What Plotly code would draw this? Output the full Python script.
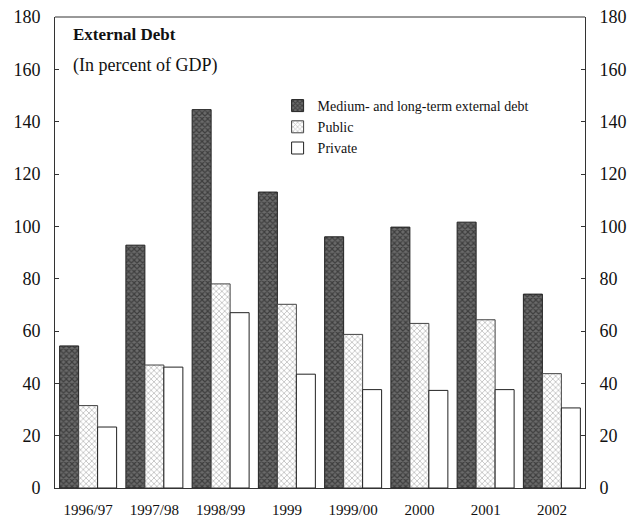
import plotly.graph_objects as go

categories = ["1996/97", "1997/98", "1998/99", "1999", "1999/00", "2000", "2001", "2002"]
medium_long = [54.3, 92.8, 144.6, 113.1, 96.0, 99.7, 101.6, 74.1]
public = [31.5, 47.0, 78.0, 70.2, 58.7, 62.9, 64.3, 43.7]
private = [23.3, 46.2, 67.0, 43.5, 37.6, 37.3, 37.6, 30.6]
y_ticks = [0, 20, 40, 60, 80, 100, 120, 140, 160, 180]

serif = "Liberation Serif"

fig = go.Figure()
fig.add_trace(go.Bar(
    x=categories, y=medium_long, name="Medium- and long-term external debt",
    marker=dict(color="#555555", line=dict(color="#222", width=1),
                pattern=dict(shape="x", fgcolor="#111", bgcolor="#6a6a6a", size=4, solidity=0.5)),
))
fig.add_trace(go.Bar(
    x=categories, y=public, name="Public",
    marker=dict(color="white", line=dict(color="#444", width=1),
                pattern=dict(shape="x", fgcolor="#8a8a8a", bgcolor="white", size=4, solidity=0.4)),
))
fig.add_trace(go.Bar(
    x=categories, y=private, name="Private",
    marker=dict(color="white", line=dict(color="#222", width=1)),
))
# invisible trace to activate right axis
fig.add_trace(go.Scatter(x=categories, y=[None]*len(categories), yaxis="y2", showlegend=False,
                         hoverinfo="skip"))

fig.update_layout(
    width=635, height=521,
    margin=dict(l=55, r=50, t=17, b=33),
    paper_bgcolor="white", plot_bgcolor="white",
    barmode="group", bargap=0.14, bargroupgap=0,
    font=dict(family=serif, color="#111"),
    xaxis=dict(showline=True, linecolor="#333", linewidth=1, ticks="", showgrid=False,
               tickfont=dict(size=15), ticklabelstandoff=8, mirror=False, automargin=False),
    yaxis=dict(range=[0, 180], tickvals=y_ticks, showline=True, linecolor="#333", linewidth=1,
               ticks="inside", ticklen=4, tickcolor="#333", showgrid=False, zeroline=False,
               tickfont=dict(size=18), ticklabelstandoff=10, automargin=False),
    yaxis2=dict(range=[0, 180], tickvals=y_ticks, overlaying="y", side="right", showline=True,
                linecolor="#333", linewidth=1, ticks="inside", ticklen=4, tickcolor="#333",
                showgrid=False, zeroline=False, tickfont=dict(size=18), ticklabelstandoff=10,
                automargin=False),
    legend=dict(x=0.42, y=0.845, xanchor="left", yanchor="top", bgcolor="rgba(0,0,0,0)",
                font=dict(size=14, family=serif), itemwidth=30, tracegroupgap=0),
    showlegend=True,
)

# top frame line
fig.add_shape(type="line", xref="paper", yref="paper", x0=0, x1=1, y0=1, y1=1,
              line=dict(color="#333", width=1))

fig.add_annotation(text="<b>External Debt</b>", xref="paper", yref="paper", x=0.03, y=0.962,
                   xanchor="left", yanchor="middle", showarrow=False, font=dict(size=17, family=serif))
fig.add_annotation(text="(In percent of GDP)", xref="paper", yref="paper", x=0.03, y=0.896,
                   xanchor="left", yanchor="middle", showarrow=False, font=dict(size=18, family=serif))

fig.write_html("out.html")
